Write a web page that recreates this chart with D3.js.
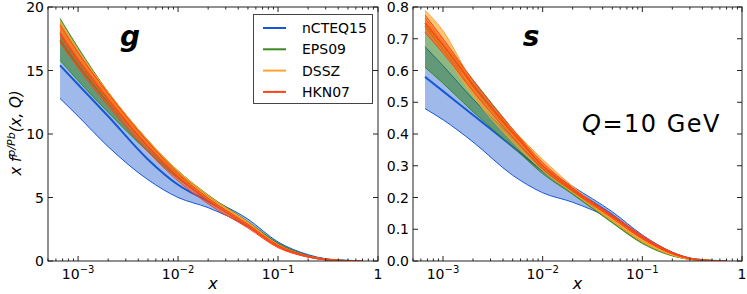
<!DOCTYPE html>
<html>
<head>
<meta charset="utf-8">
<script src="https://cdn.jsdelivr.net/npm/d3@7"></script>
<style>
  body { margin: 0; background: #fff; }
  svg { display: block; font-family: "DejaVu Sans", sans-serif; }
</style>
</head>
<body>
<svg id="chart" width="747" height="294"></svg>
<script>
// x grid shared by every curve
const xs = [6.6e-4, 1e-3, 2e-3, 5e-3, 1e-2, 2e-2, 5e-2, 0.1, 0.2, 0.3, 0.5, 0.7];

// gluon, x g(x,Q)
const gNcteqC = [15.4, 13.9, 11.4, 8.0, 6.0, 4.7, 2.95, 1.35, 0.4, 0.13, 0.02, 0];
const gNcteqLo = [12.8, 11.4, 9.0, 6.4, 5.0, 4.2, 2.7, 1.15, 0.3, 0.09, 0.01, 0];
const gNcteqHi = [18.0, 15.9, 13.0, 9.3, 7.0, 5.1, 3.3, 1.5, 0.5, 0.17, 0.03, 0];
const gEpsC = [17.4, 15.4, 12.5, 9.0, 6.8, 5.0, 2.95, 1.3, 0.38, 0.12, 0.02, 0];
const gEpsLo = [15.8, 14.2, 11.7, 8.6, 6.5, 4.8, 2.85, 1.2, 0.34, 0.1, 0.015, 0];
const gEpsHi = [19.1, 16.8, 13.3, 9.5, 7.1, 5.2, 3.1, 1.4, 0.42, 0.14, 0.025, 0];
const gDsszC = [18.5, 16.2, 13.0, 9.2, 6.9, 5.0, 2.95, 1.25, 0.36, 0.12, 0.02, 0];
const gDsszLo = [18.1, 15.8, 12.6, 8.9, 6.7, 4.8, 2.85, 1.2, 0.33, 0.1, 0.015, 0];
const gDsszHi = [18.9, 16.6, 13.3, 9.5, 7.1, 5.15, 3.05, 1.3, 0.39, 0.13, 0.025, 0];
const gHknC = [17.9, 15.8, 12.7, 9.0, 6.6, 4.75, 2.75, 1.15, 0.35, 0.12, 0.02, 0];
const gHknLo = [17.2, 15.2, 12.2, 8.6, 6.3, 4.5, 2.6, 1.05, 0.31, 0.1, 0.015, 0];
const gHknHi = [18.6, 16.4, 13.2, 9.4, 6.9, 4.95, 2.9, 1.25, 0.4, 0.14, 0.025, 0];

// strange, x s(x,Q)
const sNcteqC = [0.58, 0.535, 0.46, 0.36, 0.285, 0.225, 0.145, 0.075, 0.025, 0.008, 0.001, 0];
const sNcteqLo = [0.48, 0.445, 0.375, 0.27, 0.215, 0.185, 0.13, 0.068, 0.022, 0.007, 0.001, 0];
const sNcteqHi = [0.675, 0.615, 0.51, 0.39, 0.30, 0.235, 0.155, 0.082, 0.028, 0.009, 0.001, 0];
const sEpsC = [0.74, 0.665, 0.55, 0.40, 0.29, 0.215, 0.125, 0.06, 0.018, 0.006, 0.001, 0];
const sEpsLo = [0.61, 0.56, 0.47, 0.36, 0.275, 0.21, 0.12, 0.055, 0.016, 0.005, 0.001, 0];
const sEpsHi = [0.765, 0.69, 0.57, 0.415, 0.30, 0.22, 0.13, 0.064, 0.02, 0.007, 0.001, 0];
const sDsszC = [0.76, 0.69, 0.54, 0.395, 0.30, 0.225, 0.13, 0.065, 0.02, 0.006, 0.001, 0];
const sDsszLo = [0.73, 0.66, 0.52, 0.375, 0.285, 0.215, 0.125, 0.06, 0.018, 0.005, 0.001, 0];
const sDsszHi = [0.79, 0.725, 0.56, 0.415, 0.32, 0.235, 0.135, 0.07, 0.022, 0.007, 0.001, 0];
const sHknC = [0.75, 0.68, 0.555, 0.405, 0.30, 0.225, 0.14, 0.075, 0.025, 0.008, 0.001, 0];
const sHknLo = [0.72, 0.655, 0.535, 0.39, 0.29, 0.22, 0.135, 0.07, 0.022, 0.007, 0.001, 0];
const sHknHi = [0.775, 0.70, 0.57, 0.415, 0.31, 0.23, 0.145, 0.08, 0.027, 0.009, 0.001, 0];

const setNames = ['nCTEQ15', 'EPS09', 'DSSZ', 'HKN07'];
const gTicks = [0, 5, 10, 15, 20];
const sTicks = [0, 0.1, 0.2, 0.3, 0.4, 0.5, 0.6, 0.7, 0.8];
const xTickExps = [-3, -2, -1, 0];

const styles = {
  nCTEQ15: { line: '#1558d6', fill: '#2a66d0', alpha: 0.45, width: 2 },
  EPS09:   { line: '#3b8a22', fill: '#2f7d1c', alpha: 0.55, width: 1.5 },
  DSSZ:    { line: '#ffa530', fill: '#ff9a1a', alpha: 0.6, width: 1.5 },
  HKN07:   { line: '#ff4514', fill: '#ff4a10', alpha: 0.45, width: 1.5 }
};

const panels = [
  { key: 'g', x0: 48, x1: 378, yMax: 20, ticks: gTicks, fmt: d3.format('d'),
    sets: [[gNcteqC, gNcteqLo, gNcteqHi], [gEpsC, gEpsLo, gEpsHi], [gDsszC, gDsszLo, gDsszHi], [gHknC, gHknLo, gHknHi]] },
  { key: 's', x0: 413, x1: 742, yMax: 0.8, ticks: sTicks, fmt: d3.format('.1f'),
    sets: [[sNcteqC, sNcteqLo, sNcteqHi], [sEpsC, sEpsLo, sEpsHi], [sDsszC, sDsszLo, sDsszHi], [sHknC, sHknLo, sHknHi]] }
];

const plotTop = 7, plotBottom = 261;
const svg = d3.select('#chart');

// minor ticks for log axis
const minorX = [];
for (let e = -4; e <= -1; e++) {
  for (let m = 2; m <= 9; m++) {
    const v = m * Math.pow(10, e);
    if (v >= 5e-4 && v < 1) minorX.push(v);
  }
}

panels.forEach((p, pi) => {
  const x = d3.scaleLog().domain([5e-4, 1]).range([p.x0, p.x1]);
  const y = d3.scaleLinear().domain([0, p.yMax]).range([plotBottom, plotTop]);

  const clipId = 'clip' + pi;
  svg.append('clipPath').attr('id', clipId)
    .append('rect').attr('x', p.x0).attr('y', plotTop)
    .attr('width', p.x1 - p.x0).attr('height', plotBottom - plotTop);

  const g = svg.append('g').attr('clip-path', `url(#${clipId})`);

  const line = d3.line().x((d, i) => x(xs[i])).y(d => y(d)).curve(d3.curveMonotoneX);
  const area = d3.area().x((d, i) => x(xs[i])).y0(d => y(d[0])).y1(d => y(d[1]))
    .curve(d3.curveMonotoneX);

  p.sets.forEach((s, si) => {
    const st = styles[setNames[si]];
    const [c, lo, hi] = s;
    g.append('path').datum(lo.map((v, i) => [v, hi[i]]))
      .attr('d', area).attr('fill', st.fill).attr('fill-opacity', st.alpha);
    [lo, hi].forEach(arr => {
      g.append('path').datum(arr).attr('d', line)
        .attr('fill', 'none').attr('stroke', st.line).attr('stroke-width', 1);
    });
    g.append('path').datum(c).attr('d', line)
      .attr('fill', 'none').attr('stroke', st.line).attr('stroke-width', st.width);
  });

  // frame
  svg.append('rect').attr('x', p.x0).attr('y', plotTop)
    .attr('width', p.x1 - p.x0).attr('height', plotBottom - plotTop)
    .attr('fill', 'none').attr('stroke', '#222').attr('stroke-width', 1);

  const ticks = svg.append('g').attr('stroke', '#222').attr('stroke-width', 1);
  // x ticks (inside, bottom and top)
  xTickExps.forEach(e => {
    const px = x(Math.pow(10, e));
    ticks.append('line').attr('x1', px).attr('x2', px).attr('y1', plotBottom).attr('y2', plotBottom - 5);
    ticks.append('line').attr('x1', px).attr('x2', px).attr('y1', plotTop).attr('y2', plotTop + 5);
  });
  minorX.forEach(v => {
    const px = x(v);
    ticks.append('line').attr('x1', px).attr('x2', px).attr('y1', plotBottom).attr('y2', plotBottom - 2.5);
    ticks.append('line').attr('x1', px).attr('x2', px).attr('y1', plotTop).attr('y2', plotTop + 2.5);
  });
  // y ticks
  p.ticks.forEach(v => {
    const py = y(v);
    ticks.append('line').attr('x1', p.x0).attr('x2', p.x0 + 5).attr('y1', py).attr('y2', py);
    ticks.append('line').attr('x1', p.x1).attr('x2', p.x1 - 5).attr('y1', py).attr('y2', py);
  });

  // tick labels
  p.ticks.forEach(v => {
    svg.append('text').attr('x', p.x0 - 4).attr('y', y(v) + 5)
      .attr('text-anchor', 'end').attr('font-size', 14).attr('fill', '#000')
      .text(p.fmt(v));
  });
  xTickExps.forEach(e => {
    const t = svg.append('text').attr('x', x(Math.pow(10, e))).attr('y', 279)
      .attr('text-anchor', 'middle').attr('font-size', 14).attr('fill', '#000');
    if (e === 0) {
      t.text('1');
    } else {
      t.append('tspan').text('10');
      t.append('tspan').attr('dy', -6).attr('font-size', 10).text('\u2212' + (-e));
    }
  });

  svg.append('text').attr('x', (p.x0 + p.x1) / 2).attr('y', 289)
    .attr('text-anchor', 'middle').attr('font-size', 16).attr('font-style', 'italic')
    .text('x');

  // flavour label
  svg.append('text').attr('x', pi === 0 ? 130 : 531).attr('y', 46)
    .attr('text-anchor', 'middle').attr('font-size', 28)
    .attr('font-style', 'italic').attr('font-weight', 'bold').text(p.key);
});

// y axis title
const yt = svg.append('text')
  .attr('transform', 'translate(21,133) rotate(-90)')
  .attr('text-anchor', 'middle').attr('font-size', 15).attr('font-style', 'italic');
yt.append('tspan').text('x f');
yt.append('tspan').attr('dy', -6).attr('font-size', 11).text('p/Pb');
yt.append('tspan').attr('dy', 6).text('(x, Q)');

// Q label
const ql = svg.append('text').attr('x', 582).attr('y', 132).attr('font-size', 24)
  .attr('letter-spacing', 1.5);
ql.append('tspan').attr('font-style', 'italic').text('Q');
ql.append('tspan').text('=10 GeV');

// legend
const leg = svg.append('g');
leg.append('rect').attr('x', 253.5).attr('y', 14.5).attr('width', 119).attr('height', 89)
  .attr('fill', '#fff').attr('stroke', '#444').attr('stroke-width', 1);
setNames.forEach((n, i) => {
  const ly = 28 + i * 21.3;
  leg.append('line').attr('x1', 263).attr('x2', 286).attr('y1', ly).attr('y2', ly)
    .attr('stroke', styles[n].line).attr('stroke-width', 2);
  leg.append('text').attr('x', 302).attr('y', ly + 5).attr('font-size', 14).text(n);
});
</script>
</body>
</html>
